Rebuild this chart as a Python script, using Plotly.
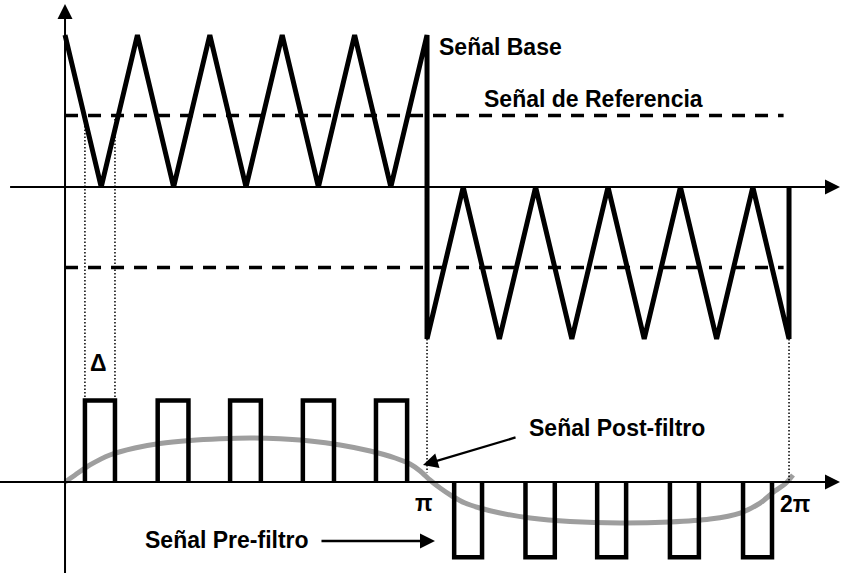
import plotly.graph_objects as go

# ---------------- data (x in units of pi) ----------------
# Carrier ("Señal Base") triangle wave, top panel units
carrier_x = [0.0, 0.1, 0.2, 0.3, 0.4, 0.5, 0.6, 0.7, 0.8, 0.9, 1.0,
             1.0, 1.1, 1.2, 1.3, 1.4, 1.5, 1.6, 1.7, 1.8, 1.9, 2.0, 2.0]
carrier_y = [1, 0, 1, 0, 1, 0, 1, 0, 1, 0, 1,
             -1, 0, -1, 0, -1, 0, -1, 0, -1, 0, -1, 0]

# Reference levels ("Señal de Referencia")
ref_levels = [0.47, -0.53]
ref_x = [0.0, 1.985]

# Pre-filter pulses (bottom panel units)
pulse_start = [0.055, 0.256, 0.456, 0.657, 0.859, 1.075, 1.272, 1.470, 1.671, 1.873]
pulse_end = [0.138, 0.341, 0.541, 0.743, 0.945, 1.152, 1.353, 1.550, 1.751, 1.953]
pulse_level = [1.02, 1.02, 1.02, 1.02, 1.02, -0.94, -0.94, -0.94, -0.94, -0.94]

# Post-filter curve (bottom panel units)
post_x = [0.000, 0.028, 0.069, 0.124, 0.193, 0.262, 0.345, 0.428, 0.511, 0.594,
          0.677, 0.760, 0.843, 0.912, 0.953, 0.981, 1.008, 1.036, 1.069, 1.105,
          1.146, 1.202, 1.285, 1.395, 1.533, 1.671, 1.782, 1.865, 1.920, 1.961,
          1.989, 2.011]
post_y = [0.000, 0.088, 0.213, 0.338, 0.425, 0.481, 0.519, 0.540, 0.550, 0.540,
          0.513, 0.463, 0.388, 0.300, 0.225, 0.138, 0.025, -0.075, -0.175, -0.263,
          -0.325, -0.388, -0.450, -0.494, -0.513, -0.500, -0.463, -0.388, -0.263, -0.113,
          -0.025, 0.088]

# ---------------- layout geometry ----------------
W, H = 841, 573
X_RANGE = [-0.1796, 2.1436]
Y1_RANGE = [-2.5395, 1.2303]   # top panel (carrier)
Y2_RANGE = [-1.1375, 6.025]    # bottom panel (pulses)


def top_to_bottom(v):
    frac = (v - Y1_RANGE[0]) / (Y1_RANGE[1] - Y1_RANGE[0])
    return Y2_RANGE[0] + frac * (Y2_RANGE[1] - Y2_RANGE[0])


BLACK = "#000000"
GRAY = "#9e9e9e"
FONT = dict(family="Liberation Sans, Arial, sans-serif", size=23, color=BLACK)

fig = go.Figure()

# post-filter curve (under pulses)
fig.add_trace(go.Scatter(x=post_x, y=post_y, yaxis="y2", mode="lines",
                         line=dict(color=GRAY, width=5, shape="spline", smoothing=0.8),
                         hoverinfo="skip", showlegend=False))

# pulses
px_, py_ = [], []
for s, e, h in zip(pulse_start, pulse_end, pulse_level):
    px_ += [s, s, e, e, None]
    py_ += [0, h, h, 0, None]
fig.add_trace(go.Scatter(x=px_, y=py_, yaxis="y2", mode="lines",
                         line=dict(color=BLACK, width=4.5),
                         hoverinfo="skip", showlegend=False))

# reference dashed lines
for lv in ref_levels:
    fig.add_trace(go.Scatter(x=ref_x, y=[lv, lv], mode="lines",
                             line=dict(color=BLACK, width=3.5, dash="13px,10px"),
                             hoverinfo="skip", showlegend=False))

# carrier triangle
fig.add_trace(go.Scatter(x=carrier_x, y=carrier_y, mode="lines",
                         line=dict(color=BLACK, width=5),
                         hoverinfo="skip", showlegend=False))

# dotted connector lines (in bottom panel units)
dotted = [
    (pulse_start[0], top_to_bottom(ref_levels[0]), pulse_level[0]),
    (pulse_end[0], top_to_bottom(ref_levels[0]), pulse_level[0]),
    (1.0, top_to_bottom(-1), 0.12),
    (2.0, top_to_bottom(-1), 0.0),
]
for xv, ya, yb in dotted:
    fig.add_trace(go.Scatter(x=[xv, xv], y=[ya, yb], yaxis="y2", mode="lines",
                             line=dict(color=BLACK, width=1.5, dash="1.5px,2px"),
                             hoverinfo="skip", showlegend=False))

# axes lines
shapes = [
    dict(type="line", xref="x", yref="paper", x0=0, x1=0, y0=0, y1=0.975,
         line=dict(color=BLACK, width=2)),
    dict(type="line", xref="paper", yref="y", x0=0.012, x1=0.985, y0=0, y1=0,
         line=dict(color=BLACK, width=2)),
    dict(type="line", xref="paper", yref="y2", x0=0.0, x1=0.985, y0=0, y1=0,
         line=dict(color=BLACK, width=2)),
]

annotations = [
    # axis arrowheads
    dict(x=0, y=0.993, xref="x", yref="paper", ax=0, ay=16, text="", showarrow=True,
         arrowhead=2, arrowsize=1.5, arrowwidth=2, arrowcolor=BLACK, standoff=0),
    dict(x=0.999, y=0, xref="paper", yref="y", ax=-16, ay=0, text="", showarrow=True,
         arrowhead=2, arrowsize=1.5, arrowwidth=2, arrowcolor=BLACK, standoff=0),
    dict(x=0.999, y=0, xref="paper", yref="y2", ax=-16, ay=0, text="", showarrow=True,
         arrowhead=2, arrowsize=1.5, arrowwidth=2, arrowcolor=BLACK, standoff=0),
    # labels
    dict(x=1.0276, y=0.921, xref="x", yref="y", text="<b>Señal Base</b>", showarrow=False,
         xanchor="left", yanchor="middle", font=FONT),
    dict(x=1.152, y=0.579, xref="x", yref="y", text="<b>Señal de Referencia</b>", showarrow=False,
         xanchor="left", yanchor="middle", font=FONT),
    dict(x=1.276, y=0.675, xref="x", yref="y2", text="<b>Señal Post-filtro</b>", showarrow=False,
         xanchor="left", yanchor="middle", font=FONT),
    dict(x=0.2155, y=-0.725, xref="x", yref="y2", text="<b>Señal Pre-filtro</b>", showarrow=False,
         xanchor="left", yanchor="middle", font=FONT),
    dict(x=0.0912, y=1.49, xref="x", yref="y2", text="<b>Δ</b>", showarrow=False,
         xanchor="center", yanchor="middle", font=FONT),
    dict(x=0.992, y=-0.2625, xref="x", yref="y2", text="<b>π</b>", showarrow=False,
         xanchor="center", yanchor="middle", font=FONT),
    dict(x=2.0166, y=-0.275, xref="x", yref="y2", text="<b>2π</b>", showarrow=False,
         xanchor="center", yanchor="middle", font=FONT),
    # label arrows
    dict(x=0.989, y=0.2125, xref="x", yref="y2", ax=94, ay=-28, text="", showarrow=True,
         arrowhead=2, arrowsize=1.3, arrowwidth=2.3, arrowcolor=BLACK, standoff=0),
    dict(x=1.022, y=-0.7375, xref="x", yref="y2", ax=-115, ay=0, text="", showarrow=True,
         arrowhead=2, arrowsize=1.3, arrowwidth=2.3, arrowcolor=BLACK, standoff=0),
]

fig.update_layout(
    width=W, height=H, autosize=False,
    margin=dict(l=0, r=0, t=0, b=0, pad=0),
    paper_bgcolor="white", plot_bgcolor="white",
    xaxis=dict(range=X_RANGE, visible=False, fixedrange=True),
    yaxis=dict(range=Y1_RANGE, visible=False, fixedrange=True),
    yaxis2=dict(range=Y2_RANGE, visible=False, overlaying="y", fixedrange=True),
    shapes=shapes, annotations=annotations, showlegend=False,
)

fig.write_html("out.html", config={"displayModeBar": False, "staticPlot": True},
               post_script="document.body.style.margin='0';")
